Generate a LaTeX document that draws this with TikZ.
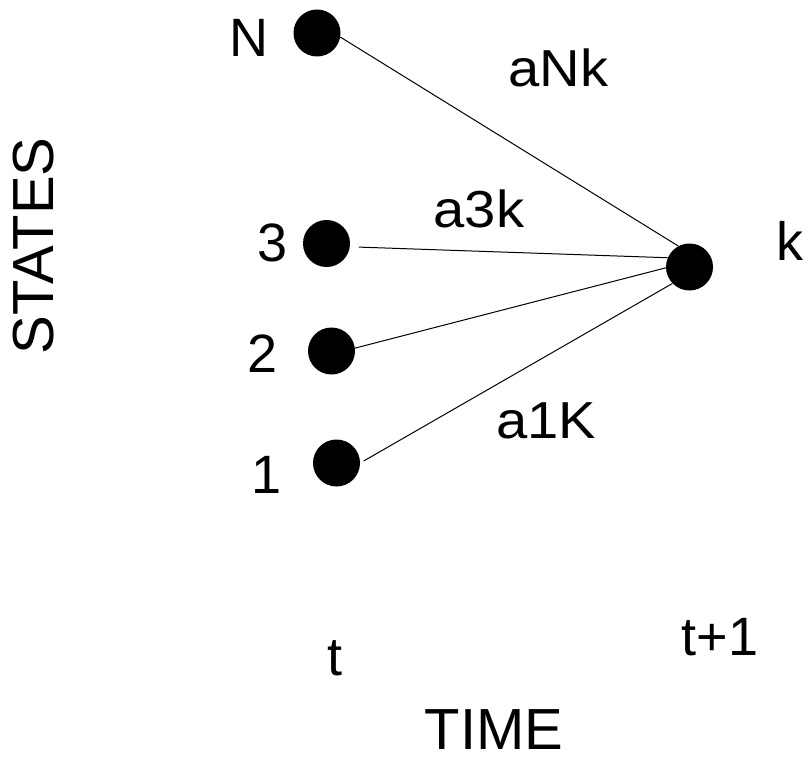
\documentclass[tikz,border=0pt]{standalone}
\usepackage{fontspec}
\setmainfont{Liberation Sans}
\tikzset{
  dot/.style={circle, fill=black, draw=none, minimum size=47pt, inner sep=0pt},
  lbl/.style={anchor=base, inner sep=0pt, font=\fontsize{54}{60}\selectfont},
  elbl/.style={anchor=base, inner sep=0pt, xscale=1.08, font=\fontsize{52}{58}\selectfont},
  axl/.style={inner sep=0pt, font=\fontsize{58}{64}\selectfont},
  edge/.style={line width=1pt, black}
}
\begin{document}
\begin{tikzpicture}[x=1pt,y=-1pt]
\useasboundingbox (0,0) rectangle (808,757);
% dots
\node[dot] (cN) at (317,33) {};
\node[dot] (c3) at (326.5,243.5) {};
\node[dot] (c2) at (331.5,351) {};
\node[dot] (c1) at (336.5,463) {};
\node[dot] (ck) at (689.5,267) {};
% state labels
\node[lbl] (lN) at (249,57) {N};
\node[lbl] (l3) at (273,261) {3};
\node[lbl] (l2) at (263,372) {2};
\node[lbl] (l1) at (267,493) {1};
\node[lbl] (lk) at (790,260) {k};
% edge labels
\node[elbl] (eN) at (558.5,87) {aNk};
\node[elbl] (e3) at (479,227) {a3k};
\node[elbl] (e1) at (546,438) {a1K};
% time labels
\node[lbl] (tt) at (334.5,675) {t};
\node[lbl] (tt1) at (720,655) {t+1};
\node[axl, anchor=base] (time) at (494,749) {TIME};
\node[axl, rotate=90] (states) at (34,246) {STATES};
% connectors
\draw[edge] (cN.-10) -- (ck.118);
\draw[edge, shorten <=9pt] (c3.-8) -- (ck.157);
\draw[edge] (c2.7) -- (ck.182);
\draw[edge, shorten <=4pt] (c1.0) -- (ck.224);
\end{tikzpicture}
\end{document}
